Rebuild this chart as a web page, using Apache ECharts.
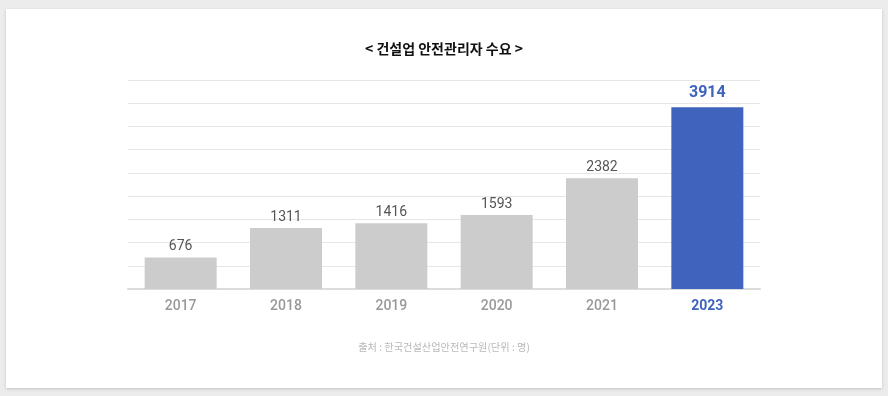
<!DOCTYPE html>
<html>
<head>
<meta charset="utf-8">
<script src="https://cdn.jsdelivr.net/npm/echarts@6/dist/echarts.min.js"></script>
<style>
html,body{margin:0;padding:0;background:#ececec;}
#c{width:888px;height:396px;}
</style>
</head>
<body>
<div id="c"></div>
<script>
const categories = ['2017', '2018', '2019', '2020', '2021', '2023'];
const values = [676, 1311, 1416, 1593, 2382, 3914];
const highlightCategory = '2023';
const titleText = '< 건설업 안전관리자 수요 >';
const sourceText = '출처 : 한국건설산업안전연구원(단위 : 명)';

const GRAY = '#cccccc';
const BLUE = '#4063bd';
const FONT = 'Roboto, "Noto Sans CJK KR", sans-serif';

const chart = echarts.init(document.getElementById('c'), null, {renderer: 'canvas'});

const seriesData = values.map((v, i) => {
  const hl = categories[i] === highlightCategory;
  return {
    value: v,
    itemStyle: {color: hl ? BLUE : GRAY},
    label: hl ? {color: BLUE, fontWeight: 'bold', fontSize: 16, distance: 6} : {}
  };
});

chart.setOption({
  backgroundColor: 'transparent',
  animation: false,
  graphic: [
    {
      type: 'rect', z: -10, silent: true,
      shape: {x: 6, y: 9, width: 876, height: 379},
      style: {fill: '#ffffff', shadowBlur: 3, shadowColor: 'rgba(0,0,0,0.18)', shadowOffsetY: 1}
    },
    {
      type: 'text', left: 'center', top: 42,
      style: {text: titleText, fontSize: 14, fontWeight: 'bold', fill: '#111', fontFamily: '"Noto Sans CJK KR", sans-serif'}
    },
    {
      type: 'text', left: 'center', top: 342,
      style: {text: sourceText, fontSize: 10.2, fill: '#b8b8b8', fontFamily: '"Noto Sans CJK KR", sans-serif'}
    }
  ],
  grid: {left: 128, right: 128, top: 80, bottom: 107, containLabel: false},
  xAxis: {
    type: 'category',
    data: categories,
    axisLine: {show: true, lineStyle: {color: '#dcdcdc', width: 2}},
    axisTick: {show: false},
    axisLabel: {
      margin: 11,
      formatter: v => v === highlightCategory ? '{hl|' + v + '}' : '{n|' + v + '}',
      rich: {
        n: {color: '#999999', fontSize: 14, fontWeight: 500, fontFamily: FONT},
        hl: {color: BLUE, fontSize: 14, fontWeight: 'bold', fontFamily: FONT}
      }
    }
  },
  yAxis: {
    type: 'value',
    min: 0, max: 4500, interval: 500,
    axisLine: {show: false},
    axisTick: {show: false},
    axisLabel: {show: false},
    splitLine: {lineStyle: {color: '#e6e6e6', width: 1}}
  },
  series: [{
    type: 'bar',
    data: seriesData,
    barWidth: 72,
    label: {
      show: true,
      position: 'top',
      distance: 4,
      color: '#555555',
      fontSize: 14,
      fontFamily: FONT
    }
  }]
});
</script>
</body>
</html>
